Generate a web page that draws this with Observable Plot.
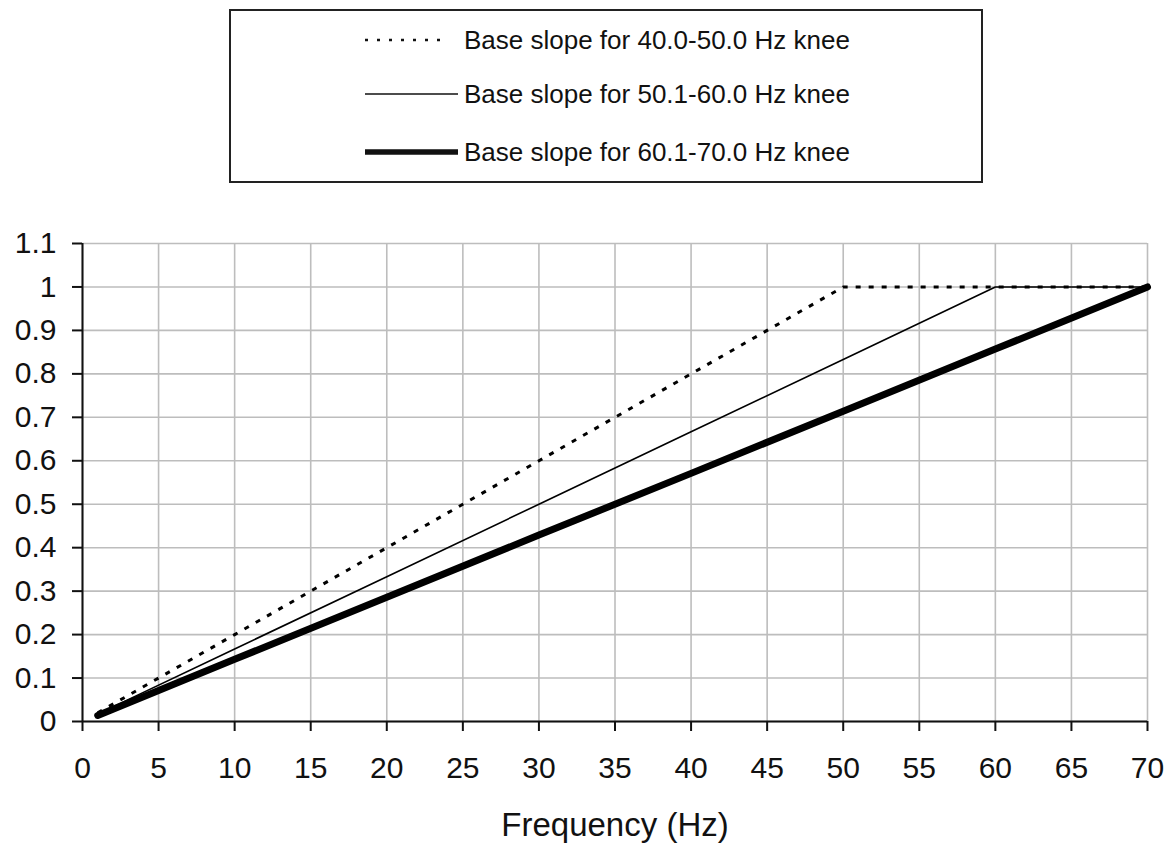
<!DOCTYPE html>
<html>
<head>
<meta charset="utf-8">
<script src="https://cdn.jsdelivr.net/npm/d3@7"></script>
<script src="https://cdn.jsdelivr.net/npm/@observablehq/plot@0.6"></script>
<style>
  html, body { margin: 0; padding: 0; background: #fff; }
  body { width: 1168px; height: 844px; overflow: hidden; font-family: "Liberation Sans", Arial, sans-serif; color: #111; }
  #legendWrap { position: relative; width: 1168px; height: 192px; }
  #legendBox { position: absolute; left: 229px; top: 9px; width: 754px; height: 174px; box-sizing: border-box; border: 2px solid #222; }
  .row { position: absolute; left: 0; height: 30px; width: 100%; }
  .row svg { position: absolute; left: 134px; top: 0; }
  .row span { position: absolute; left: 233px; top: 0; line-height: 30px; font-size: 26px; white-space: nowrap; }
  #chart svg { display: block; }
</style>
</head>
<body>
<div id="legendWrap"><div id="legendBox"></div></div>
<div id="chart"></div>
<script>
// ---- data ----
const freq = [1, 10, 20, 30, 40, 50, 60, 70];
const slope40_50 = [0.02, 0.2, 0.4, 0.6, 0.8, 1, 1, 1];
const slope50_60 = [0.017, 0.167, 0.333, 0.5, 0.667, 0.833, 1, 1];
const slope60_70 = [0.014, 0.143, 0.286, 0.429, 0.571, 0.714, 0.857, 1];
const seriesNames = [
  "Base slope for 40.0-50.0 Hz knee",
  "Base slope for 50.1-60.0 Hz knee",
  "Base slope for 60.1-70.0 Hz knee"
];
const xTicks = [0, 5, 10, 15, 20, 25, 30, 35, 40, 45, 50, 55, 60, 65, 70];
const yTicks = [0, 0.1, 0.2, 0.3, 0.4, 0.5, 0.6, 0.7, 0.8, 0.9, 1, 1.1];
const xLabel = "Frequency (Hz)";

// ---- styles per series ----
const styles = [
  {strokeWidth: 3, dash: "5,8", legendDash: "3,9"},
  {strokeWidth: 1.6, dash: null, legendDash: null},
  {strokeWidth: 7, dash: null, legendDash: null}
];
const allValues = [slope40_50, slope50_60, slope60_70];
const data = allValues.map((vals, s) => freq.map((f, i) => ({series: seriesNames[s], f, v: vals[i]})));

// ---- legend ----
const box = document.getElementById("legendBox");
const rowTops = [14, 68, 126];
seriesNames.forEach((name, i) => {
  const row = document.createElement("div");
  row.className = "row";
  row.style.top = rowTops[i] + "px";
  const st = styles[i];
  const lw = i === 2 ? 5.5 : (i === 0 ? 2.5 : 1.6);
  row.innerHTML = `<svg width="96" height="30"><line x1="0" x2="${i === 0 ? 82 : 93}" y1="15" y2="15" stroke="#111" stroke-width="${lw}" ${st.legendDash ? `stroke-dasharray="${st.legendDash}"` : ""}/></svg><span></span>`;
  row.querySelector("span").textContent = name;
  box.appendChild(row);
});

// ---- chart ----
const font = "Liberation Sans, Arial, sans-serif";
const marks = [
  Plot.gridX(xTicks, {stroke: "#bdbdbd", strokeOpacity: 1, strokeWidth: 1.6}),
  Plot.gridY(yTicks, {stroke: "#bdbdbd", strokeOpacity: 1, strokeWidth: 1.6}),
  Plot.axisX(xTicks, {tickSize: 10, tickPadding: 25, fontSize: 30, label: null, tickFormat: d => String(d), stroke: "#111", strokeWidth: 2}),
  Plot.axisY(yTicks, {tickSize: 10, tickPadding: 16, fontSize: 30, label: null, tickFormat: d => String(+d.toFixed(1)), stroke: "#111", strokeWidth: 2}),
  Plot.ruleX([0], {stroke: "#111", strokeWidth: 2}),
  Plot.ruleY([0], {stroke: "#111", strokeWidth: 2, x1: 0, x2: 70}),
  ...data.map((d, i) => Plot.line(d, {
    x: "f", y: "v", stroke: "#000",
    strokeWidth: styles[i].strokeWidth,
    strokeDasharray: styles[i].dash,
    strokeLinecap: i === 2 ? "round" : "butt",
    strokeLinejoin: "round"
  })),
  Plot.text([xLabel], {frameAnchor: "bottom", dy: 104, fontSize: 33, fill: "#111", lineAnchor: "middle"})
];

const chart = Plot.plot({
  width: 1168,
  height: 652,
  marginLeft: 82,
  marginRight: 21,
  marginTop: 51,
  marginBottom: 123,
  style: {fontFamily: font, color: "#111", background: "#fff"},
  x: {domain: [0, 70]},
  y: {domain: [0, 1.1]},
  marks
});
document.getElementById("chart").appendChild(chart);
</script>
</body>
</html>
